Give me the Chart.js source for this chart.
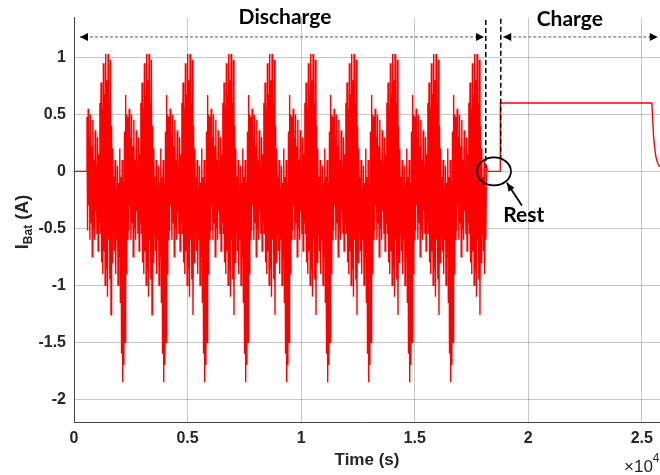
<!DOCTYPE html>
<html lang="en">
  <head>
    <meta charset="utf-8" />
    <title>Battery current</title>
    <script src="https://cdn.jsdelivr.net/npm/chart.js"></script>
    <style>
      html, body { margin: 0; padding: 0; background: #fff; }
      #wrap { width: 660px; height: 475px; }
    </style>
  </head>
  <body>
    <div id="wrap"><canvas id="myChart" width="660" height="475"></canvas></div>
    <script>
      // one drive cycle (alternating high / low samples, A)
      const cycleValues = [
        0.48, -0.52, 0.55, -0.3, 0.3, -0.6, 0.5, -0.45, 0.22, -0.75,
        0.45, -0.5, 0.1, -0.6, 0.36, -0.35, 0.05, -0.55, 0.3, -0.7,
        0.15, -0.45, 0.6, -0.55, 0.78, -0.8, 0.55, -0.9, 0.95, -0.7,
        0.68, -1.0, 1.03, -0.85, 0.8, -1.1, 1.03, -0.6, 0.6, -0.95,
        0.98, -1.26, 0.4, -0.8, 0.2, -0.55, -0.05, -0.7, 0.1, -0.9,
        -0.15, -0.6, 0.05, -1.0, -0.1, -0.75, 0.2, -1.15, -0.05, -1.6,
        0.1, -1.85, -0.1, -1.7, 0.35, -1.5, 0.67, -0.9, 0.5, -0.6
      ];
      const cyclePeriod = 1805; // s
      const cycleStarts = [572, 2377, 4182, 5987, 7792, 9597, 11402, 13207, 15012, 16817];
      const dischargeEnd = 18180;

      // rest + charge part
      const chargeTimes = [18180, 18760, 18770, 25440, 25480, 25520, 25570, 25620, 25680, 25750, 25800];
      const chargeValues = [0, 0, 0.6, 0.6, 0.45, 0.3, 0.2, 0.13, 0.08, 0.05, 0.04];

      const xTicks = [0, 5000, 10000, 15000, 20000, 25000];
      const yTicks = [-2, -1.5, -1, -0.5, 0, 0.5, 1];

      const points = [{ x: 0, y: 0 }, { x: cycleStarts[0], y: 0 }];
      const dt = cyclePeriod / cycleValues.length;
      for (const s of cycleStarts) {
        for (let i = 0; i < cycleValues.length; i++) {
          const t = s + i * dt;
          if (t > dischargeEnd) break;
          points.push({ x: t, y: cycleValues[i] });
        }
      }
      for (let i = 0; i < chargeTimes.length; i++) {
        points.push({ x: chargeTimes[i], y: chargeValues[i] });
      }

      const tickFont = { family: '"Liberation Sans", Arial, sans-serif', size: 16, weight: "bold" };
      const noteFont = 'Lato, "Open Sans", sans-serif';

      function arrowHead(c, x, y, dir) {
        c.beginPath();
        c.moveTo(x, y);
        c.lineTo(x - dir * 8, y - 4);
        c.lineTo(x - dir * 8, y + 4);
        c.closePath();
        c.fill();
      }

      const notes = {
        id: "notes",
        afterDraw(chart) {
          const c = chart.ctx;
          const xs = chart.scales.x;
          const ys = chart.scales.y;
          const px = (v) => xs.getPixelForValue(v);
          const py = (v) => ys.getPixelForValue(v);
          c.save();

          // dotted spans
          const ay = py(1.18);
          c.strokeStyle = "#555";
          c.fillStyle = "#000";
          c.lineWidth = 1;
          c.setLineDash([3, 2]);
          c.beginPath();
          c.moveTo(px(264), ay);
          c.lineTo(px(18050), ay);
          c.moveTo(px(18900), ay);
          c.lineTo(px(25700), ay);
          c.stroke();
          c.setLineDash([]);
          arrowHead(c, px(264), ay, -1);
          arrowHead(c, px(18050), ay, 1);
          arrowHead(c, px(18900), ay, -1);
          arrowHead(c, px(25700), ay, 1);

          // rest boundaries
          c.strokeStyle = "#000";
          c.lineWidth = 1.5;
          c.setLineDash([5, 3]);
          c.beginPath();
          c.moveTo(px(18130), py(1.33));
          c.lineTo(px(18130), py(0.03));
          c.moveTo(px(18790), py(1.34));
          c.lineTo(px(18790), py(0.12));
          c.stroke();
          c.setLineDash([]);

          // circle + arrow to it
          c.lineWidth = 1.8;
          c.beginPath();
          c.ellipse(px(18490), py(0), 17, 14, 0, 0, Math.PI * 2);
          c.stroke();
          const tx = px(19720), ty = py(-0.3);
          const hx = px(19060), hy = py(-0.1);
          c.beginPath();
          c.moveTo(tx, ty);
          c.lineTo(hx, hy);
          c.stroke();
          const a = Math.atan2(hy - ty, hx - tx);
          c.beginPath();
          c.moveTo(hx, hy);
          c.lineTo(hx - 9 * Math.cos(a - 0.4), hy - 9 * Math.sin(a - 0.4));
          c.lineTo(hx - 9 * Math.cos(a + 0.4), hy - 9 * Math.sin(a + 0.4));
          c.closePath();
          c.fill();

          // labels
          c.fillStyle = "#000";
          c.textAlign = "center";
          c.textBaseline = "middle";
          c.font = "bold 21px " + noteFont;
          c.fillText("Discharge", px(9290), 17);
          c.fillText("Charge", px(21830), 19);
          c.fillText("Rest", px(19800), 215);

          // y title with subscript
          c.fillStyle = "#262626";
          c.translate(22, 222);
          c.rotate(-Math.PI / 2);
          const big = 'bold 18px "Liberation Sans", Arial, sans-serif';
          const small = 'bold 12px "Liberation Sans", Arial, sans-serif';
          c.font = big;
          const w1 = c.measureText("I").width;
          const w3 = c.measureText(" (A)").width;
          c.font = small;
          const w2 = c.measureText("Bat").width;
          let x0 = -(w1 + w2 + w3) / 2;
          c.textAlign = "left";
          c.textBaseline = "alphabetic";
          c.font = big;
          c.fillText("I", x0, 6);
          c.font = small;
          c.fillText("Bat", x0 + w1, 10);
          c.font = big;
          c.fillText(" (A)", x0 + w1 + w2, 6);
          c.setTransform(1, 0, 0, 1, 0, 0);

          // exponent
          c.textAlign = "left";
          c.font = '17px "Liberation Sans", Arial, sans-serif';
          c.fillText("\u00d710", 624, 472);
          const ew = c.measureText("\u00d710").width;
          c.font = '12px "Liberation Sans", Arial, sans-serif';
          c.fillText("4", 624 + ew, 462);
          c.restore();
        },
      };

      new Chart(document.getElementById("myChart"), {
        type: "line",
        data: {
          datasets: [
            {
              data: points,
              borderColor: "#ff0000",
              borderWidth: 1.4,
              pointRadius: 0,
              tension: 0,
            },
          ],
        },
        options: {
          responsive: false,
          animation: false,
          layout: { padding: { top: 16, right: 0, left: 0, bottom: 0 } },
          plugins: { legend: { display: false }, tooltip: { enabled: false } },
          scales: {
            x: {
              type: "linear",
              min: 0,
              max: 25800,
              afterBuildTicks: (s) => { s.ticks = xTicks.map((v) => ({ value: v })); },
              afterFit: (s) => { s.height = 53; },
              ticks: {
                color: "#262626",
                font: tickFont,
                padding: 7,
                maxRotation: 0,
                callback: (v) => String(v / 10000),
              },
              grid: { color: "rgba(0,0,0,0.22)", drawTicks: false },
              border: { color: "#444", width: 1 },
              title: {
                display: true,
                text: "Time (s)",
                color: "#262626",
                font: { family: tickFont.family, size: 17, weight: "bold" },
                padding: { top: 0, bottom: 4 },
              },
            },
            y: {
              min: -2.2,
              max: 1.35,
              afterBuildTicks: (s) => { s.ticks = yTicks.map((v) => ({ value: v })); },
              afterFit: (s) => { s.width = 74; },
              ticks: {
                color: "#262626",
                font: tickFont,
                padding: 8,
                callback: (v) => String(v),
              },
              grid: { color: "rgba(0,0,0,0.22)", drawTicks: false },
              border: { color: "#444", width: 1 },
            },
          },
        },
        plugins: [notes],
      });
    </script>
  </body>
</html>
